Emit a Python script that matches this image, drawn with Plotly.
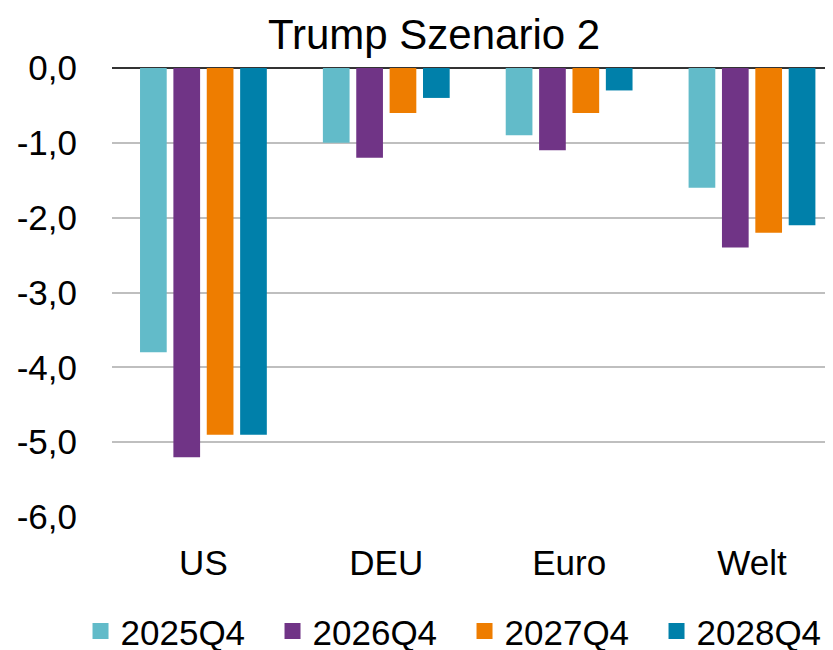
import plotly.graph_objects as go

categories = ["US", "DEU", "Euro", "Welt"]
series_names = ["2025Q4", "2026Q4", "2027Q4", "2028Q4"]
v2025 = [-3.8, -1.0, -0.9, -1.6]
v2026 = [-5.2, -1.2, -1.1, -2.4]
v2027 = [-4.9, -0.6, -0.6, -2.2]
v2028 = [-4.9, -0.4, -0.3, -2.1]
colors = ["#62BBC9", "#703486", "#EE7D00", "#0080AA"]
tick_vals = [0, -1, -2, -3, -4, -5, -6]
tick_text = ["0,0", "-1,0", "-2,0", "-3,0", "-4,0", "-5,0", "-6,0"]
title_text = "Trump Szenario 2"

FONT = "Liberation Sans, Arial, sans-serif"

fig = go.Figure()
for name, vals, col in zip(series_names, [v2025, v2026, v2027, v2028], colors):
    fig.add_trace(go.Bar(x=categories, y=vals, name=name, marker_color=col,
                         marker_line_width=0, showlegend=False))
for name, col in zip(series_names, colors):
    fig.add_trace(go.Scatter(x=[None], y=[None], mode="markers", name=name,
                             marker=dict(symbol="square", size=16, color=col)))

fig.update_layout(
    width=833, height=650,
    paper_bgcolor="white", plot_bgcolor="white",
    font=dict(family=FONT, size=35, color="black"),
    margin=dict(l=103.5, r=8, t=59.5, b=140.5, autoexpand=False),
    barmode="group", bargap=0.27, bargroupgap=0.2,
    title=dict(text=title_text, font=dict(size=42, family=FONT, color="black"),
               x=426 / 833, xref="container", xanchor="center",
               y=1 - 26 / 650, yref="container", yanchor="middle"),
    xaxis=dict(range=[-0.5, 3.443], showgrid=False, showline=False, ticks="",
               tickfont=dict(size=35), ticklabelstandoff=22),
    yaxis=dict(range=[-6, 0], tickvals=tick_vals, ticktext=tick_text,
               showgrid=True, gridcolor="#BFBFBF", gridwidth=1.5,
               zeroline=True, zerolinecolor="#333333", zerolinewidth=1.5,
               showline=False, ticks="", tickfont=dict(size=35),
               ticklabelstandoff=34),
    legend=dict(orientation="h", x=(72 - 103.5) / 721.5, xref="paper", xanchor="left",
                y=-(624 - 509.5) / 450, yanchor="middle",
                font=dict(size=35), itemwidth=30, tracegroupgap=0,
                entrywidth=147),
)

fig.write_html("out.html")
